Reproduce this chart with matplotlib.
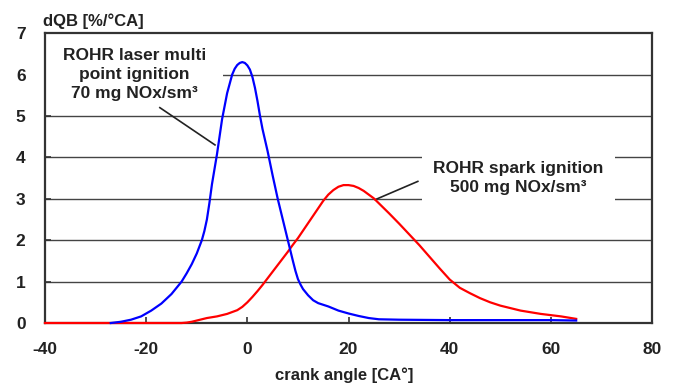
import matplotlib
matplotlib.use("Agg")
import matplotlib.pyplot as plt
from matplotlib.patches import Rectangle

# crank angle / rate of heat release values
laser_x = [-27, -25, -23, -21, -19, -17, -15, -13, -12, -11, -10, -9, -8.5, -8, -7.5, -7, -6, -5, -4, -3, -2.5, -2, -1.5, -1,
           -0.5, 0, 0.5, 1, 1.5, 2, 2.5, 3, 4, 5, 6, 7, 8, 9, 9.5, 10, 10.5, 11, 12, 13, 14, 16, 18, 20, 22, 24, 26, 30, 40, 50, 60, 65]
laser_y = [0.0, 0.03, 0.08, 0.16, 0.3, 0.47, 0.7, 1.0, 1.2, 1.42, 1.68, 2.0, 2.22, 2.5, 2.9, 3.35, 4.08, 4.92, 5.55, 6.0, 6.14, 6.23, 6.28, 6.3,
           6.28, 6.22, 6.12, 5.94, 5.68, 5.36, 5.0, 4.68, 4.15, 3.56, 3.0, 2.5, 2.0, 1.5, 1.26, 1.06, 0.93, 0.82, 0.67, 0.55, 0.48, 0.4, 0.3, 0.23, 0.17, 0.12, 0.09, 0.08, 0.07, 0.07, 0.07, 0.06]

spark_x = [-40, -13, -12, -11, -10, -8, -6, -4, -2, -1, 0, 1, 2, 3, 4, 5, 6, 7, 8, 9, 10, 11, 12, 13, 14, 15,
           16, 17, 18, 19, 20, 21, 22, 23, 24, 25, 26, 28, 30, 32, 34, 36, 38, 40, 42, 44, 46, 48,
           50, 52, 54, 56, 58, 60, 62, 64, 65]
spark_y = [0.0, 0.0, 0.01, 0.03, 0.06, 0.12, 0.16, 0.22, 0.31, 0.39, 0.5, 0.63, 0.77, 0.92, 1.08, 1.24, 1.4, 1.56, 1.72, 1.89, 2.05, 2.23, 2.41, 2.59, 2.77, 2.95,
           3.1, 3.21, 3.29, 3.33, 3.33, 3.31, 3.26, 3.19, 3.1, 3.01, 2.89, 2.65, 2.4, 2.14, 1.88, 1.6, 1.32, 1.05, 0.85, 0.72, 0.6, 0.5,
           0.42, 0.36, 0.3, 0.26, 0.22, 0.19, 0.16, 0.12, 0.1]

x_ticks = [-40, -20, 0, 20, 40, 60, 80]
y_ticks = [0, 1, 2, 3, 4, 5, 6, 7]

plt.rcParams['font.family'] = ['Liberation Sans', 'DejaVu Sans']
plt.rcParams['axes.unicode_minus'] = False
txt = '#222222'
frame = '#333333'

fig = plt.figure(figsize=(6.75, 3.85), dpi=100)
ax = fig.add_axes([0.0667, 0.161, 0.8993, 0.753])

ax.plot(spark_x, spark_y, color='#ff0000', lw=1.6, zorder=4, clip_on=False)
ax.plot(laser_x, laser_y, color='#0000ff', lw=1.6, zorder=5, clip_on=False)

ax.set_xlim(-40, 80)
ax.set_ylim(0, 7)
ax.set_xticks(x_ticks)
ax.set_yticks(y_ticks)
for y in y_ticks[1:-1]:
    ax.axhline(y, color='#444444', lw=1.0, zorder=1)

for s in ax.spines.values():
    s.set_color(frame)
    s.set_linewidth(1.6)
ax.tick_params(direction='in', length=4, width=1.2, color=frame, labelsize=12.5,
               labelcolor=txt, pad=14)
for lab in ax.get_xticklabels() + ax.get_yticklabels():
    lab.set_fontweight('bold')

# annotations (white boxes hide the gridlines behind the labels)
ax.add_patch(Rectangle((-40, 5.35), 35.2, 1.6, facecolor='white', edgecolor='none', zorder=2))
ax.text(-22.3, 6.0, 'ROHR laser multi\npoint ignition\n70 mg NOx/sm³', ha='center', va='center',
        fontsize=12.5, fontweight='bold', color=txt, linespacing=1.3, zorder=3)
ax.plot([-17.3, -6.4], [5.2, 4.3], color=txt, lw=1.2, zorder=3)

ax.text(53.6, 3.5, 'ROHR spark ignition\n500 mg NOx/sm³', ha='center', va='center',
        fontsize=12.5, fontweight='bold', color=txt, linespacing=1.3, zorder=3,
        bbox=dict(facecolor='white', edgecolor='none', pad=8))
ax.plot([33.7, 25.3], [3.42, 2.98], color=txt, lw=1.2, zorder=3)

fig.text(0.064, 0.945, 'dQB [%/°CA]', ha='left', va='center', fontsize=12, fontweight='bold', color=txt)
fig.text(0.51, 0.025, 'crank angle [CA°]', ha='center', va='center', fontsize=12, fontweight='bold', color=txt)

fig.savefig('out.png', dpi=100, facecolor='white')
